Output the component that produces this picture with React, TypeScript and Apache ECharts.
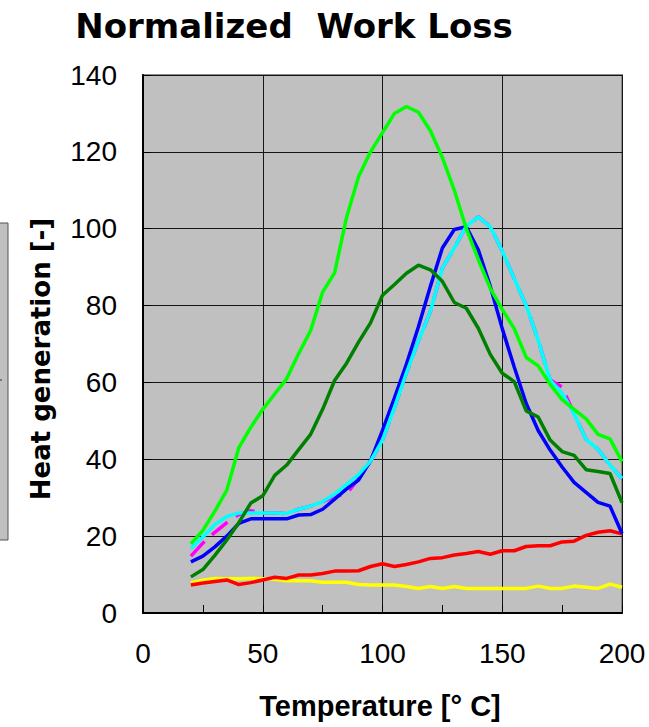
import React, { useEffect, useRef } from "react";
import * as echarts from "echarts";

const temps = [20, 25, 30, 35, 40, 45, 50, 55, 60, 65, 70, 75, 80, 85, 90, 95, 100, 105, 110, 115, 120, 125, 130, 135, 140, 145, 150, 155, 160, 165, 170, 175, 180, 185, 190, 195, 200];

const limeGreen = [18, 21.5, 26.5, 32, 43, 48.3, 53, 57, 61, 67.5, 73.5, 83.5, 88.5, 103, 113.5, 120, 125, 130, 131.8, 130.3, 125.5, 118.5, 110, 100, 92, 84.5, 79, 74, 66.5, 64.3, 59.5, 55.5, 53, 50.5, 46.5, 45.3, 39.4];
const darkGreen = [9.4, 11.3, 15, 19, 23.5, 28.6, 30.5, 35.8, 38.5, 42.5, 46.5, 53, 60.5, 65, 70.5, 75.5, 82.7, 85.5, 88.4, 90.5, 89.3, 86.3, 80.8, 79.3, 74.1, 67.3, 62.4, 60.2, 52.6, 51, 45, 42, 41, 37.3, 36.8, 36.3, 28.7];
const blue = [13.3, 14.8, 17.2, 20, 23.3, 24.5, 24.5, 24.5, 24.5, 25.5, 25.6, 27, 29.6, 32.3, 34.6, 39.6, 47.5, 56, 64.8, 74.5, 85, 95, 99.8, 100.5, 94.5, 85, 74, 64, 54.5, 47.5, 42.4, 38, 34, 31.4, 28.8, 27.8, 20.7];
const cyan = [16.8, 19.8, 23, 25.1, 26, 26, 26, 26, 25.9, 27, 27.8, 29, 30.9, 33.5, 36, 39.5, 45, 53.5, 62.5, 70.8, 78.5, 89.8, 95, 100.7, 103.1, 100.5, 94.2, 87, 80, 71, 60.6, 57.2, 51.8, 45.2, 42.6, 38.5, 35];
const magenta = [14.8, 18.2, 21, 23.5, 25.6, 26.6, 26, 26, 25.9, 27, 27.8, 29, 30.3, 31, 35, 39.5, 45, 53.5, 62.5, 70.8, 78.5, 89.8, 95, 100.7, 103.1, 100.5, 94.2, 87, 80, 71, 60.6, 58.8, 51.8, 45.2, 42.6, 38.5, 35];
const red = [7.3, 7.8, 8.2, 8.6, 7.4, 7.9, 8.6, 9.3, 9, 9.9, 9.9, 10.3, 10.9, 10.9, 11, 12.1, 12.8, 12.1, 12.6, 13.3, 14.2, 14.4, 15.1, 15.5, 16, 15.3, 16.2, 16.2, 17.3, 17.5, 17.5, 18.5, 18.7, 20.2, 21, 21.4, 20.6];
const yellow = [7.9, 8.5, 9, 8.9, 8.9, 9, 8.9, 8.8, 8.4, 8.4, 8.4, 8, 8, 8, 7.4, 7.3, 7.3, 7.3, 6.9, 6.4, 6.9, 6.4, 6.9, 6.4, 6.4, 6.4, 6.4, 6.4, 6.4, 7, 6.4, 6.4, 7, 6.7, 6.4, 7.5, 6.7];

const titleText = "Normalized  Work Loss";
const xName = "Temperature [° C]";
const yName = "Heat generation [-]";

function pairs(vals: number[]) {
  return temps.map((t, i) => [t, vals[i]]);
}

export default function App() {
  const ref = useRef<HTMLDivElement>(null);
  useEffect(() => {
    const chart = echarts.init(ref.current!, null, { renderer: "svg" });
    const mk = (name: string, color: string, vals: number[], dashed = false) => ({
      type: "line",
      name,
      data: pairs(vals),
      showSymbol: false,
      symbol: "none",
      lineStyle: { color, width: 3.5, type: dashed ? [20, 10] : "solid" },
      itemStyle: { color },
    });
    chart.setOption({
      animation: false,
      grid: {
        left: 143,
        right: 27,
        top: 75,
        bottom: 114,
        show: true,
        backgroundColor: "#c0c0c0",
        borderColor: "#8a8a8a",
        borderWidth: 2,
      },
      xAxis: {
        type: "value",
        min: 0,
        max: 200,
        interval: 50,
        axisLine: { show: true, onZero: false, lineStyle: { color: "#000", width: 2 } },
        axisTick: { show: true, inside: true, length: 8, lineStyle: { color: "#000", width: 1 } },
        minorTick: { show: true, splitNumber: 2, length: 8, lineStyle: { color: "#000", width: 1 } },
        axisLabel: { fontSize: 28, color: "#000", fontFamily: "Liberation Sans", margin: 26 },
        splitLine: { show: true, lineStyle: { color: "#151515", width: 1 } },
      },
      yAxis: {
        type: "value",
        min: 0,
        max: 140,
        interval: 20,
        axisLine: { show: true, onZero: false, lineStyle: { color: "#000", width: 2 } },
        axisTick: { show: true, inside: true, length: 8, lineStyle: { color: "#000", width: 1 } },
        axisLabel: { fontSize: 28, color: "#000", fontFamily: "Liberation Sans", margin: 26 },
        splitLine: { show: true, lineStyle: { color: "#151515", width: 1 } },
      },
      series: [
        mk("yellow", "#ffff00", yellow),
        mk("red", "#ff0000", red),
        mk("magenta", "#ff00ff", magenta, true),
        mk("blue", "#0000ff", blue),
        mk("cyan", "#00ffff", cyan),
        mk("darkgreen", "#008000", darkGreen),
        mk("lime", "#00ff00", limeGreen),
      ],
      graphic: [
        {
          type: "text",
          x: 294,
          y: 26,
          style: {
            text: titleText,
            fontSize: 34,
            fontWeight: "bold",
            fontFamily: "DejaVu Sans",
            fill: "#000",
            align: "center",
            verticalAlign: "middle",
          },
        },
        {
          type: "text",
          x: 41,
          y: 359,
          rotation: Math.PI / 2,
          style: {
            text: yName,
            fontSize: 26,
            fontWeight: "bold",
            fontFamily: "DejaVu Sans",
            fill: "#000",
            align: "center",
            verticalAlign: "middle",
          },
        },
        {
          type: "text",
          x: 380,
          y: 706,
          style: {
            text: xName,
            fontSize: 29,
            fontWeight: "bold",
            fontFamily: "Liberation Sans",
            fill: "#000",
            align: "center",
            verticalAlign: "middle",
          },
        },
        {
          type: "rect",
          shape: { x: -2, y: 223, width: 10, height: 317 },
          style: { fill: "#c0c0c0", stroke: "#555", lineWidth: 1 },
        },
        {
          type: "line",
          shape: { x1: 0, y1: 380, x2: 2, y2: 380 },
          style: { stroke: "#333", lineWidth: 1 },
        },
      ],
    });
    return () => chart.dispose();
  }, []);
  return <div ref={ref} style={{ position: "absolute", left: 0, top: 0, width: 649, height: 727 }} />;
}
